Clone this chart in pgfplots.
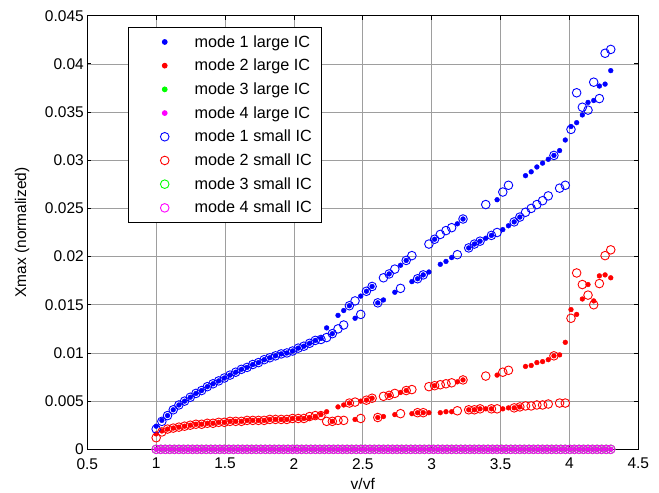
\documentclass[border=0pt]{standalone}
\usepackage{fontspec}
\setmainfont{Liberation Sans}
\usepackage{pgfplots}
\usepackage{pgfplotstable}
\pgfplotsset{compat=1.18}

\definecolor{mblue}{RGB}{0,0,255}
\definecolor{mred}{RGB}{255,0,0}
\definecolor{mgreen}{RGB}{0,255,0}
\definecolor{mmag}{RGB}{255,0,255}

% x, mode 1 (large IC, small IC), mode 2 (large IC, small IC)
\pgfplotstableread{
x      bF     bC     rF     rC
1.0000 0.0024 0.0021 0.0016 0.0012
1.0413 0.0030 0.0029 0.0019 0.0018
1.0825 0.0035 0.0035 0.0021 0.0021
1.1238 0.0041 0.0041 0.0022 0.0022
1.1650 0.0046 0.0046 0.0023 0.0023
1.2063 0.0050 0.0050 0.0024 0.0024
1.2475 0.0054 0.0054 0.0025 0.0025
1.2888 0.0058 0.0058 0.0026 0.0026
1.3300 0.0061 0.0061 0.0026 0.0026
1.3713 0.0065 0.0065 0.0027 0.0027
1.4125 0.0068 0.0068 0.0027 0.0027
1.4538 0.0071 0.0071 0.0028 0.0028
1.4950 0.0074 0.0074 0.0028 0.0028
1.5363 0.0077 0.0077 0.0029 0.0029
1.5775 0.0080 0.0080 0.0029 0.0029
1.6188 0.0083 0.0083 0.0029 0.0029
1.6600 0.0085 0.0085 0.0030 0.0030
1.7013 0.0088 0.0088 0.0030 0.0030
1.7425 0.0090 0.0090 0.0030 0.0030
1.7838 0.0093 0.0093 0.0030 0.0030
1.8250 0.0095 0.0095 0.0031 0.0031
1.8663 0.0097 0.0097 0.0031 0.0031
1.9075 0.0099 0.0099 0.0031 0.0031
1.9488 0.0100 0.0100 0.0031 0.0031
1.9900 0.0102 0.0102 0.0032 0.0032
2.0313 0.0105 0.0105 0.0032 0.0032
2.0725 0.0107 0.0107 0.0032 0.0032
2.1138 0.0110 0.0110 0.0033 0.0034
2.1550 0.0113 0.0113 0.0034 0.0035
2.1963 0.0115 0.0114 0.0036 0.0035
2.2375 0.0126 0.0116 0.0039 0.0029
2.2788 0.0120 0.0120 0.0029 0.0029
2.3200 0.0139 0.0125 0.0044 0.0030
2.3613 0.0144 0.0129 0.0046 0.0030
2.4025 0.0149 0.0149 0.0048 0.0048
2.4438 0.0136 0.0154 0.0031 0.0049
2.4850 0.0159 0.0140 0.0050 0.0032
2.5263 0.0164 0.0164 0.0051 0.0051
2.5675 0.0169 0.0169 0.0053 0.0053
2.6088 0.0152 0.0152 0.0033 0.0033
2.6500 0.0155 0.0178 0.0034 0.0055
2.6913 0.0182 0.0182 0.0056 0.0056
2.7325 0.0163 0.0187 0.0036 0.0058
2.7738 0.0191 0.0167 0.0059 0.0037
2.8150 0.0196 0.0196 0.0061 0.0061
2.8563 0.0174 0.0201 0.0037 0.0062
2.8975 0.0177 0.0177 0.0038 0.0038
2.9388 0.0181 0.0181 0.0038 0.0038
2.9800 0.0184 0.0213 0.0038 0.0065
3.0213 0.0218 0.0218 0.0066 0.0066
3.0625 0.0192 0.0223 0.0038 0.0067
3.1038 0.0195 0.0227 0.0039 0.0068
3.1450 0.0199 0.0230 0.0039 0.0069
3.1863 0.0234 0.0202 0.0070 0.0040
3.2275 0.0239 0.0239 0.0072 0.0072
3.2688 0.0209 0.0209 0.0041 0.0041
3.3100 0.0213 0.0213 0.0041 0.0041
3.3513 0.0216 0.0216 0.0042 0.0042
3.3925 0.0219 0.0254 0.0042 0.0076
3.4338 0.0222 0.0222 0.0042 0.0042
3.4750 0.0259 0.0225 0.0077 0.0042
3.5163 0.0228 0.0267 0.0042 0.0080
3.5575 0.0232 0.0274 0.0043 0.0082
3.5988 0.0236 0.0236 0.0043 0.0043
3.6400 0.0241 0.0241 0.0044 0.0044
3.6813 0.0284 0.0246 0.0086 0.0045
3.7225 0.0288 0.0250 0.0087 0.0045
3.7638 0.0293 0.0254 0.0090 0.0046
3.8050 0.0297 0.0258 0.0091 0.0046
3.8463 0.0301 0.0263 0.0093 0.0047
3.8875 0.0305 0.0305 0.0097 0.0097
3.9288 0.0310 0.0271 0.0098 0.0048
3.9700 0.0321 0.0274 0.0111 0.0048
4.0113 0.0335 0.0332 0.0145 0.0136
4.0525 0.0339 0.0370 0.0140 0.0183
4.0938 0.0347 0.0355 0.0156 0.0171
4.1350 0.0360 0.0352 0.0171 0.0160
4.1763 0.0362 0.0381 0.0154 0.0150
4.2175 0.0377 0.0364 0.0180 0.0172
4.2588 0.0379 0.0411 0.0181 0.0201
4.3000 0.0393 0.0415 0.0178 0.0207
}\modes

% modes 3 and 4 stay at zero on a finer grid
\pgfplotstableread{
x     z
1.000 0
1.033 0
1.066 0
1.099 0
1.132 0
1.165 0
1.198 0
1.231 0
1.264 0
1.297 0
1.330 0
1.363 0
1.396 0
1.429 0
1.462 0
1.495 0
1.528 0
1.561 0
1.594 0
1.627 0
1.660 0
1.693 0
1.726 0
1.759 0
1.792 0
1.825 0
1.858 0
1.891 0
1.924 0
1.957 0
1.990 0
2.023 0
2.056 0
2.089 0
2.122 0
2.155 0
2.188 0
2.221 0
2.254 0
2.287 0
2.320 0
2.353 0
2.386 0
2.419 0
2.452 0
2.485 0
2.518 0
2.551 0
2.584 0
2.617 0
2.650 0
2.683 0
2.716 0
2.749 0
2.782 0
2.815 0
2.848 0
2.881 0
2.914 0
2.947 0
2.980 0
3.013 0
3.046 0
3.079 0
3.112 0
3.145 0
3.178 0
3.211 0
3.244 0
3.277 0
3.310 0
3.343 0
3.376 0
3.409 0
3.442 0
3.475 0
3.508 0
3.541 0
3.574 0
3.607 0
3.640 0
3.673 0
3.706 0
3.739 0
3.772 0
3.805 0
3.838 0
3.871 0
3.904 0
3.937 0
3.970 0
4.003 0
4.036 0
4.069 0
4.102 0
4.135 0
4.168 0
4.201 0
4.234 0
4.267 0
4.300 0
}\zeros

\begin{document}
\begin{tikzpicture}
\useasboundingbox (-87.3bp,-43.7bp) rectangle (571.7bp,449.3bp);
\begin{axis}[
    at={(0,0)}, anchor=south west,
    scale only axis, width=551bp, height=433.6bp,
    xmin=0.5, xmax=4.5, ymin=0, ymax=0.045,
    xtick={0.5,1,1.5,2,2.5,3,3.5,4,4.5},
    ytick={0,0.005,0.01,0.015,0.02,0.025,0.03,0.035,0.04,0.045},
    scaled y ticks=false,
    yticklabel style={/pgf/number format/fixed, /pgf/number format/precision=3},
    /pgf/number format/assume math mode=true,
    tick label style={font=\fontsize{15.5bp}{18bp}\selectfont},
    xticklabel shift=5.5bp,
    xlabel={v/vf}, ylabel={Xmax (normalized)},
    every axis x label/.style={at={(axis description cs:0.5,0)}, anchor=center,
        yshift=-34.7bp, font=\fontsize{15.5bp}{18bp}\selectfont},
    every axis y label/.style={at={(axis description cs:-0.1185,0.5)}, rotate=90,
        anchor=center, font=\fontsize{15.5bp}{18bp}\selectfont},
    grid=major, major grid style={black!38, line width=0.7bp},
    axis line style={line width=1.1bp},
    tick align=inside, major tick length=4bp,
    tick style={black, line width=0.8bp},
    legend cell align=left,
    legend image code/.code={
        \path[draw=none, fill=none] (-26.6bp,-11.85bp) rectangle (30bp,11.85bp);
        \draw[#1] plot coordinates {(0bp,0bp)};
    },
    legend style={at={(rel axis cs:0.0733,0.974)}, anchor=north west,
        draw=black, line width=0.9bp, fill=white,
        inner xsep=10bp, inner ysep=2.7bp, row sep=0pt, column sep=0pt,
        font=\fontsize{16.2bp}{18bp}\selectfont, nodes={inner sep=0pt}},
]
\addplot[only marks, mark=*, mark size=2.4bp, color=mblue] table[x=x, y=bF] {\modes};
\addlegendentry{mode 1 large IC}
\addplot[only marks, mark=*, mark size=2.4bp, color=mred] table[x=x, y=rF] {\modes};
\addlegendentry{mode 2 large IC}
\addplot[only marks, mark=*, mark size=2.4bp, color=mgreen] table[x=x, y=z] {\zeros};
\addlegendentry{mode 3 large IC}
\addplot[only marks, mark=*, mark size=2.4bp, color=mmag] table[x=x, y=z] {\zeros};
\addlegendentry{mode 4 large IC}
\addplot[only marks, mark=o, mark size=4.3bp, line width=0.9bp, color=mblue] table[x=x, y=bC] {\modes};
\addlegendentry{mode 1 small IC}
\addplot[only marks, mark=o, mark size=4.3bp, line width=0.9bp, color=mred] table[x=x, y=rC] {\modes};
\addlegendentry{mode 2 small IC}
\addplot[only marks, mark=o, mark size=4.3bp, line width=0.9bp, color=mgreen] table[x=x, y=z] {\zeros};
\addlegendentry{mode 3 small IC}
\addplot[only marks, mark=o, mark size=4.3bp, line width=0.9bp, color=mmag] table[x=x, y=z] {\zeros};
\addlegendentry{mode 4 small IC}
\end{axis}
\end{tikzpicture}
\end{document}
